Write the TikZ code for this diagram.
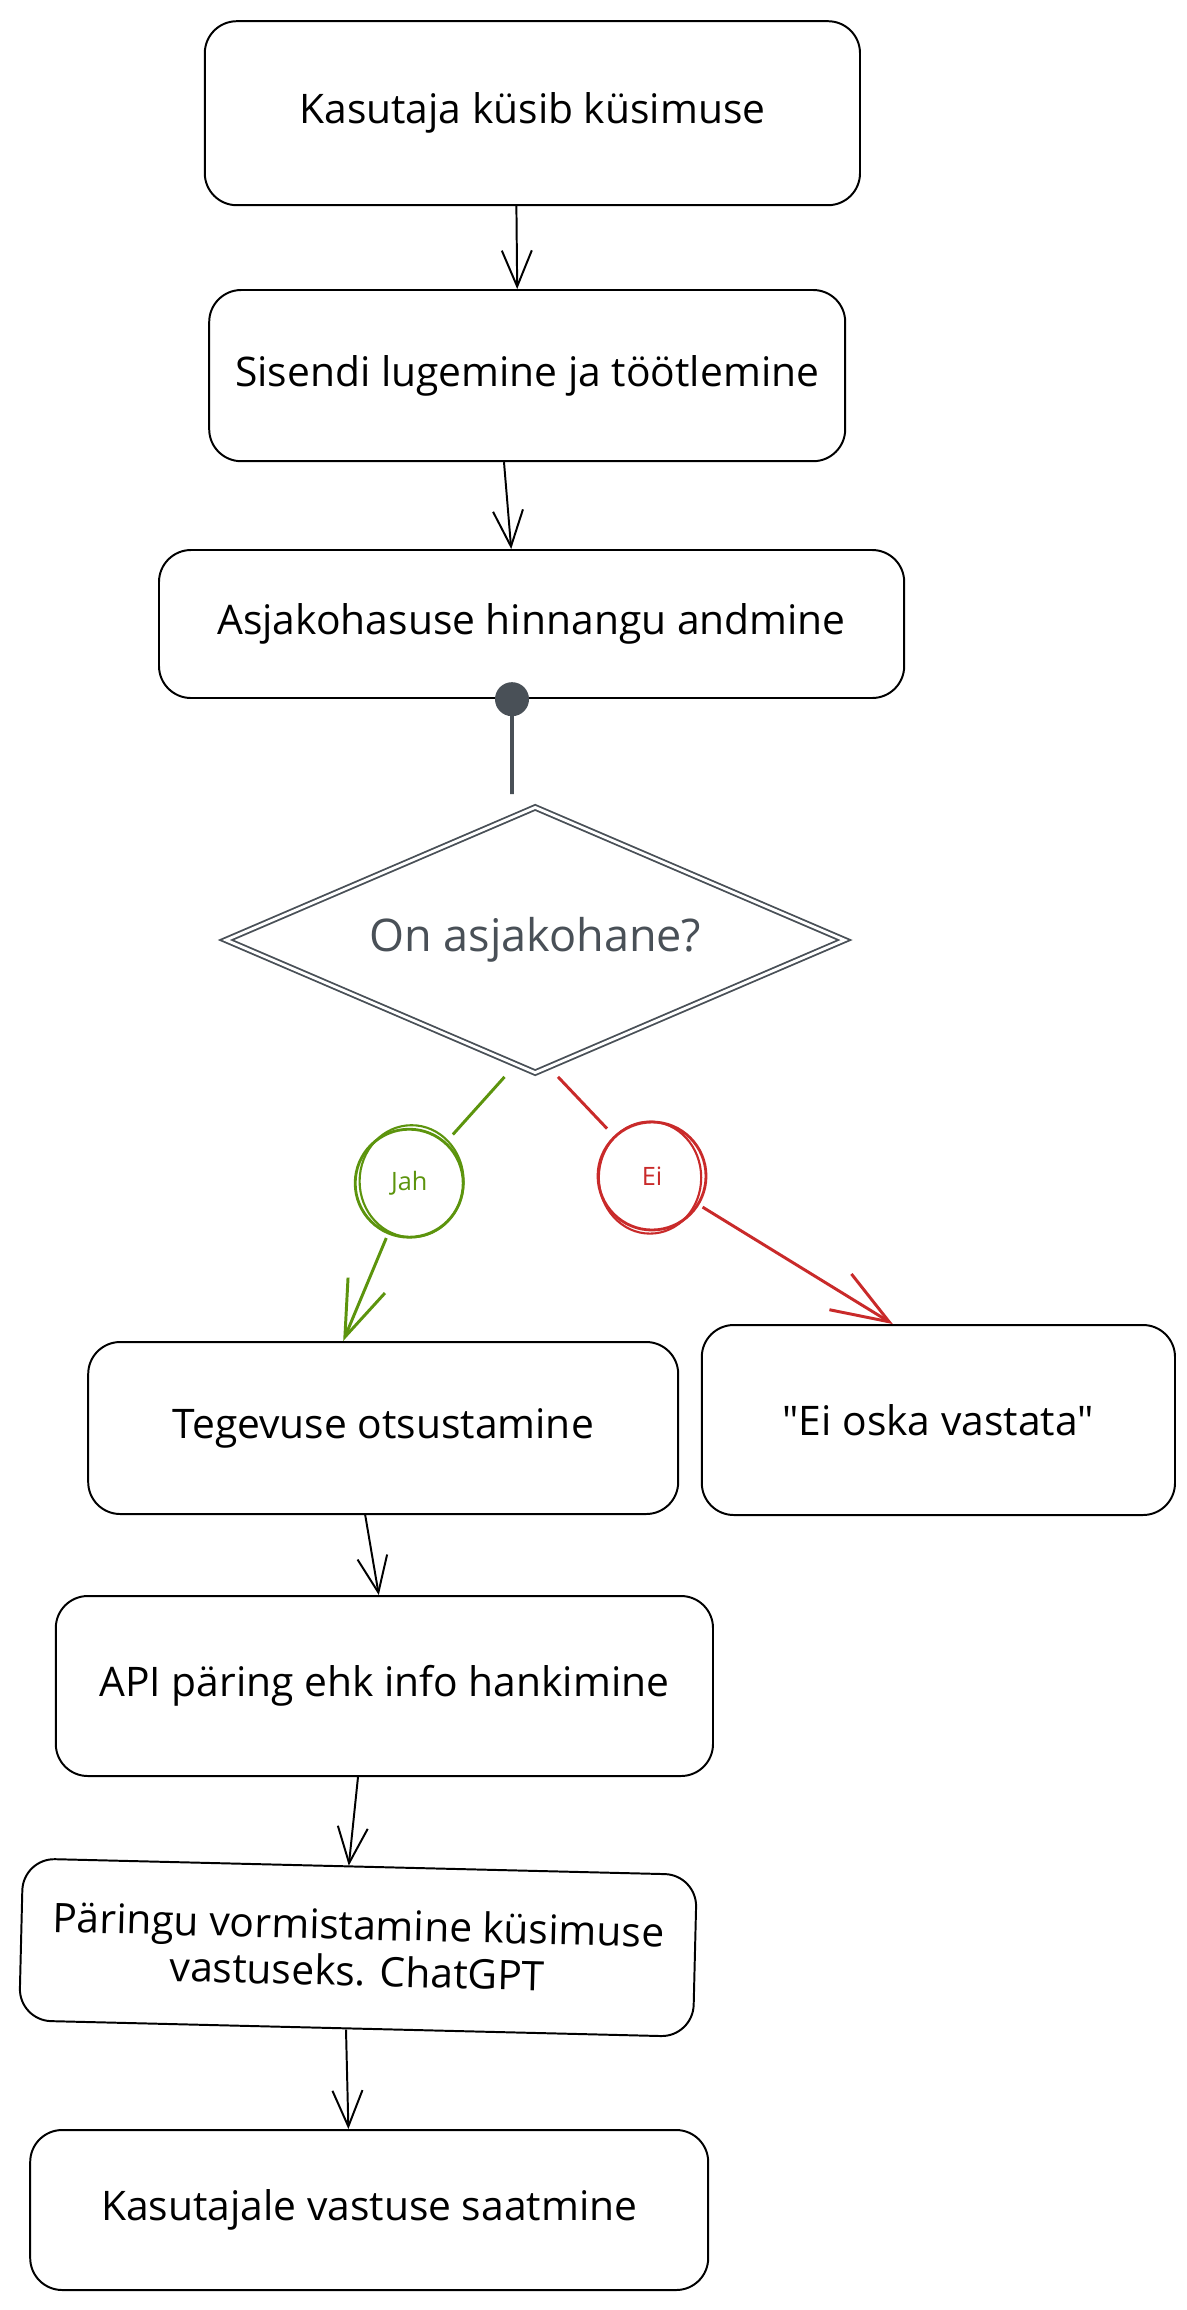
\documentclass[tikz,border=0pt]{standalone}
\usepackage{fontspec}
\setmainfont{Open Sans}
\newfontfamily\quotefont{Open Sans}
\usetikzlibrary{shapes.geometric,arrows.meta}

\definecolor{diagray}{HTML}{495057}
\definecolor{jahgreen}{HTML}{5C940D}
\definecolor{eired}{HTML}{C92A2A}

\begin{document}
\begin{tikzpicture}[
    box/.style={draw,line width=1.4pt,rounded corners=0.8cm,align=center,inner sep=0pt,font=\fontsize{29}{33}\selectfont},
    arr/.style={line width=1.4pt,-{Straight Barb[length=0.9cm,width=0.75cm]}},
    answer/.style={circle,line width=2pt,inner sep=0pt,minimum size=2.7cm,font=\fontsize{18}{22}\selectfont},
    jahline/.style={draw=jahgreen,line width=2.1pt,shorten <=0.1cm,shorten >=0.25cm},
    eiline/.style={draw=eired,line width=2.1pt,shorten <=0.1cm,shorten >=0.25cm}
  ]
  \path[fill=white] (0,0) rectangle (29.675,-57.75);
  \useasboundingbox (0,0) rectangle (29.675,-57.75);

  % main column
  \draw (13.31,-2.83) node[box,minimum width=16.38cm,minimum height=4.6cm] (kys) {Kasutaja küsib küsimuse};
  \draw (13.18,-9.39) node[box,minimum width=15.9cm,minimum height=4.28cm] (sis) {Sisendi lugemine ja töötlemine};
  \draw (13.29,-15.6) node[box,minimum width=18.63cm,minimum height=3.7cm] (asj) {Asjakohasuse hinnangu andmine};
  \draw (13.38,-23.5) node[diamond,aspect=2.33,draw=diagray,double,double distance=2pt,line width=1.3pt,minimum width=15.48cm,minimum height=6.65cm,inner sep=0pt,text=diagray,font=\fontsize{32}{37}\selectfont] (dia) {On asjakohane?};

  % yes / no
  \draw (10.23,-29.58) node[answer,draw=jahgreen,text=jahgreen] (jah) {Jah};
  \draw[jahgreen,line width=1.5pt] ([shift={(0.06cm,0.05cm)}]jah.center) ellipse (1.3cm and 1.4cm);
  \draw (16.3,-29.4) node[answer,draw=eired,text=eired] (ei) {Ei};
  \draw[eired,line width=1.5pt] ([shift={(-0.05cm,-0.04cm)}]ei.center) ellipse (1.28cm and 1.4cm);

  \draw (9.58,-35.7) node[box,minimum width=14.75cm,minimum height=4.3cm] (teg) {Tegevuse otsustamine};
  \draw (23.46,-35.5) node[box,minimum width=11.83cm,minimum height=4.75cm] (eio) {{\quotefont"}Ei oska vastata{\quotefont"}};
  \draw (9.61,-42.15) node[box,minimum width=16.43cm,minimum height=4.5cm] (api) {API päring ehk info hankimine};
  \draw (8.95,-48.69) node[box,rotate=-1.4,minimum width=16.85cm,minimum height=4.05cm] (par) {Päringu vormistamine küsimuse\\vastuseks. ChatGPT};
  \draw (9.23,-55.25) node[box,minimum width=16.95cm,minimum height=4cm] (kas) {Kasutajale vastuse saatmine};

  % connectors
  \draw[arr] ([xshift=-0.4cm]kys.south) -- ([xshift=-0.25cm]sis.north);
  \draw[arr] ([xshift=-0.58cm]sis.south) -- ([xshift=-0.51cm]asj.north);
  \draw[diagray,line width=2.5pt,{Circle[length=0.85cm]}-,shorten <=-0.42cm,shorten >=0.3cm] ([xshift=-0.49cm]asj.south) -- ([xshift=-0.58cm]dia.north);
  \draw[jahline] ([xshift=-0.7cm]dia.south) -- (jah);
  \draw[jahline,-{Straight Barb[length=1.4cm,width=1cm]},shorten >=0pt] (jah) -- ([xshift=-1cm]teg.north);
  \draw[eiline] ([xshift=0.5cm]dia.south) -- (ei);
  \draw[eiline,-{Straight Barb[length=1.43cm,width=1.05cm]},shorten >=0pt] (ei) -- ([xshift=-1.14cm]eio.north);
  \draw[arr] ([xshift=-0.45cm]teg.south) -- ([xshift=-0.14cm]api.north);
  \draw[arr] ([xshift=-0.66cm]api.south) -- ([xshift=-0.28cm]par.north);
  \draw[arr] ([xshift=-0.25cm]par.south) -- ([xshift=-0.52cm]kas.north);
\end{tikzpicture}
\end{document}
